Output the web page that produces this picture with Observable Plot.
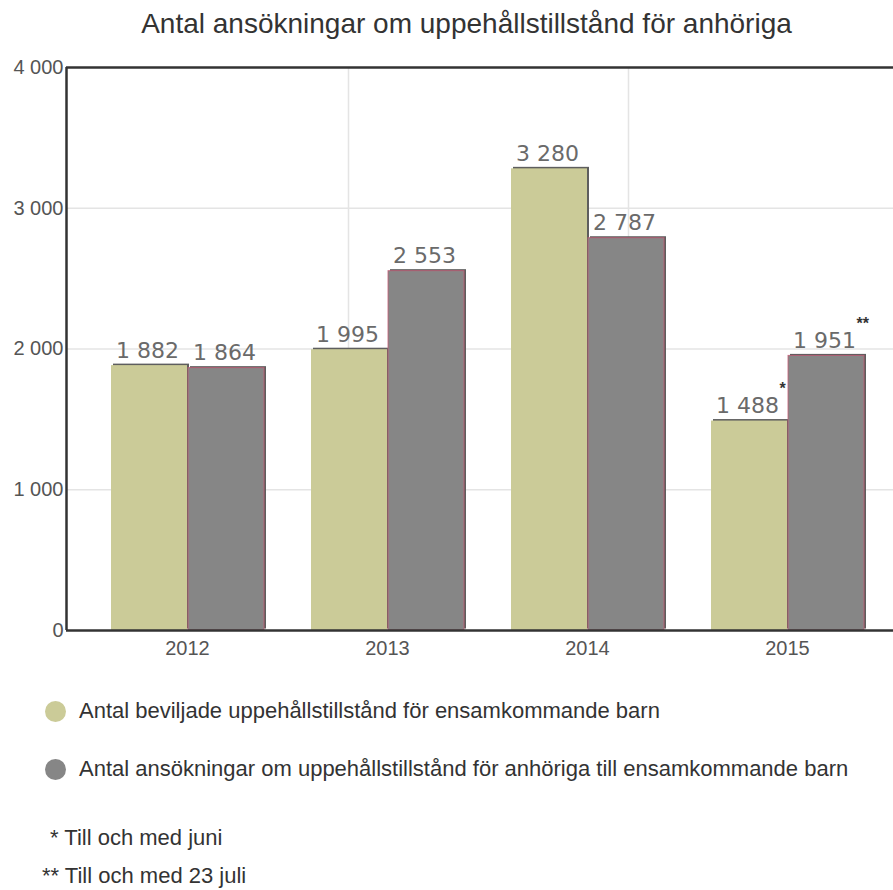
<!DOCTYPE html>
<html>
<head>
<meta charset="utf-8">
<script src="https://cdn.jsdelivr.net/npm/d3@7"></script>
<script src="https://cdn.jsdelivr.net/npm/@observablehq/plot@0.6"></script>
<style>
  body { margin: 0; background: #fff; font-family: "Liberation Sans", Arial, sans-serif; }
  #wrap { position: relative; width: 893px; height: 890px; overflow: hidden; }
  #title { position: absolute; left: 0; width: 933px; top: 8px; text-align: center; font-size: 28px; line-height: 32px; color: #333; white-space: nowrap; }
  #chart { position: absolute; left: 0; top: 55px; }
  .leg { position: absolute; left: 45px; font-size: 22px; line-height: 24px; color: #333; display: flex; align-items: center; white-space: nowrap; }
  .dot { width: 21px; height: 21px; border-radius: 50%; margin-right: 13px; }
  .note { position: absolute; font-size: 22px; line-height: 24px; color: #333; white-space: nowrap; }
</style>
</head>
<body>
<div id="wrap">
  <div id="title">Antal ansökningar om uppehållstillstånd för anhöriga</div>
  <div id="chart"></div>
  <div class="leg" style="top:699px"><span class="dot" style="background:#cbcb98"></span><span id="l1"></span></div>
  <div class="leg" style="top:757px"><span class="dot" style="background:#868686"></span><span id="l2"></span></div>
  <div class="note" style="left:50px;top:826px" id="n1"></div>
  <div class="note" style="left:42px;top:864px" id="n2"></div>
</div>
<script>
const years = ["2012", "2013", "2014", "2015"];
const beviljade = [1882, 1995, 3280, 1488];
const ansokningar = [1864, 2553, 2787, 1951];
const beviljadeNotes = ["", "", "", "*"];
const ansokningarNotes = ["", "", "", "**"];
const seriesNames = [
  "Antal beviljade uppehållstillstånd för ensamkommande barn",
  "Antal ansökningar om uppehållstillstånd för anhöriga till ensamkommande barn"
];
const footnotes = ["* Till och med juni", "** Till och med 23 juli"];
const yTicks = [0, 1000, 2000, 3000, 4000];

document.getElementById("l1").textContent = seriesNames[0];
document.getElementById("l2").textContent = seriesNames[1];
document.getElementById("n1").textContent = footnotes[0];
document.getElementById("n2").textContent = footnotes[1];

const dataA = years.map((y, i) => ({year: y, value: beviljade[i], note: beviljadeNotes[i]}));
const dataB = years.map((y, i) => ({year: y, value: ansokningar[i], note: ansokningarNotes[i]}));
const fmt = v => d3.format(",")(v).replace(/,/g, " ");

const colA = "#cbcb98", colB = "#868686";
const dxA = -38, dxB = 39;
const labelFont = "'DejaVu Sans', Verdana, sans-serif";

const chart = Plot.plot({
  width: 893,
  height: 620,
  marginTop: 12,
  marginLeft: 66,
  marginRight: 0,
  marginBottom: 45,
  style: {fontFamily: "'Liberation Sans', Arial, sans-serif", fontSize: "20px", background: "transparent"},
  x: {domain: years, range: [87, 887], paddingInner: 0.62, paddingOuter: 0.31, label: null},
  y: {domain: [0, 4000], label: null},
  marks: [
    Plot.ruleY(yTicks.filter(d => d > 0 && d < 4000), {stroke: "#e4e4e4", strokeWidth: 1.5}),
    Plot.ruleX([years[1]], {stroke: "#e4e4e4", strokeWidth: 1.5, dx: dxA - 1}),
    Plot.ruleX([years[2]], {stroke: "#e4e4e4", strokeWidth: 1.5, dx: dxB + 2}),
    Plot.axisY({ticks: yTicks, tickFormat: fmt, tickSize: 0, tickPadding: 3, fill: "#555"}),
    Plot.axisX({tickSize: 0, tickPadding: 10, fill: "#555"}),
    // shadows
    Plot.barY(dataA, {x: "year", y: "value", fill: "#5e5e5e", dx: dxA + 2, dy: -1.5}),
    Plot.barY(dataB, {x: "year", y: "value", fill: "#5e5e5e", dx: dxB + 2, dy: -1.5}),
    // bars
    Plot.barY(dataA, {x: "year", y: "value", fill: colA, dx: dxA}),
    Plot.barY(dataB, {x: "year", y: "value", fill: colB, dx: dxB, stroke: "#c25a74", strokeWidth: 1, strokeOpacity: 0.8}),
    // value labels
    Plot.text(dataA, {x: "year", y: "value", text: d => fmt(d.value), dx: dxA - 2, dy: -8, lineAnchor: "bottom", fontSize: 22, fill: "#6a6a6a", fontFamily: labelFont}),
    Plot.text(dataB, {x: "year", y: "value", text: d => fmt(d.value), dx: dxB - 2, dy: -8, lineAnchor: "bottom", fontSize: 22, fill: "#6a6a6a", fontFamily: labelFont}),
    Plot.text(dataA, {x: "year", y: "value", text: "note", dx: dxA + 30, dy: -27, textAnchor: "start", lineAnchor: "bottom", fontSize: 16, fill: "#333", fontWeight: "bold"}),
    Plot.text(dataB, {x: "year", y: "value", text: "note", dx: dxB + 30, dy: -27, textAnchor: "start", lineAnchor: "bottom", fontSize: 16, fill: "#333", fontWeight: "bold"}),
    // frame lines
    Plot.ruleY([0], {stroke: "#333", strokeWidth: 2.5}),
    Plot.ruleY([4000], {stroke: "#333", strokeWidth: 2.5}),
    Plot.ruleX([years[0]], {stroke: "#333", strokeWidth: 2.5, dx: -121, y1: 0, y2: 4000})
  ]
});
document.getElementById("chart").appendChild(chart);
</script>
</body>
</html>
